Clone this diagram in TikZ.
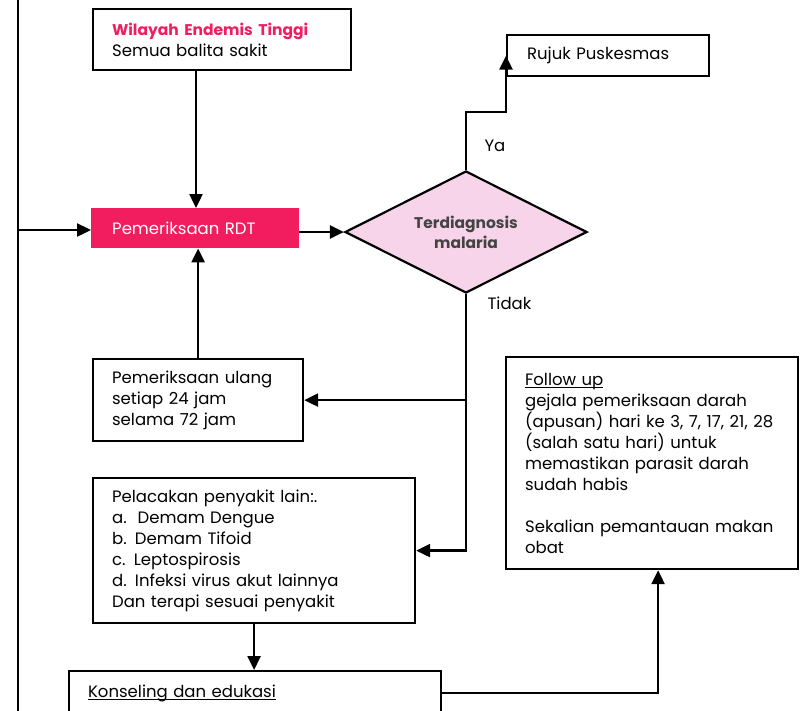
\documentclass[tikz,border=0pt]{standalone}
\usepackage{fontspec}
\setmainfont{Poppins}
\usetikzlibrary{arrows.meta,shapes.geometric}
\definecolor{rdtred}{HTML}{F21D5F}
\definecolor{diapink}{HTML}{F7D4E9}
\definecolor{labelgray}{HTML}{444444}
% underline drawn just below the baseline
\newcommand\baseul[1]{\setbox0\hbox{#1}\rlap{\rule[-2.6pt]{\wd0}{1.1pt}}\box0}
\begin{document}
\begin{tikzpicture}[x=1pt,y=-1pt,
  txt/.style={font=\fontsize{16.5}{21}\selectfont},
  box/.style={txt,draw=black,line width=2.2pt,anchor=north west,inner xsep=19pt,inner ysep=0pt,align=left},
  line/.style={line width=2.4pt},
  flow/.style={line width=2.4pt,-{Triangle[length=14pt,width=13pt]}}]
\useasboundingbox[fill=white] (0,0) rectangle (808,710);

% boxes
\node[box,minimum width=258pt,minimum height=61pt,text width=220pt] (endemic) at (92,8)
  {{\color{rdtred}\fontsize{15.5}{21}\selectfont\bfseries Wilayah Endemis Tinggi}\\Semua balita sakit};
\node[txt,fill=rdtred,text=white,anchor=north west,minimum width=208pt,minimum height=40pt,
  inner xsep=21pt,text width=166pt,align=left] (rdt) at (91,208) {Pemeriksaan RDT};
\node[diamond,draw=black,fill=diapink,line width=2.2pt,minimum width=242pt,minimum height=122pt,
  aspect=2,inner sep=0pt,align=center,text=labelgray,font=\fontsize{15.5}{20}\selectfont\bfseries]
  (dx) at (466,232) {Terdiagnosis\\malaria};
\node[box,minimum width=202pt,minimum height=41pt,text width=162pt,inner xsep=20pt] (rujuk) at (506,34)
  {Rujuk Puskesmas};
\node[box,minimum width=210pt,minimum height=82pt,text width=172pt] (ulang) at (92,358)
  {Pemeriksaan ulang\\setiap 24 jam\\selama 72 jam};
\node[box,minimum width=322pt,minimum height=145pt,text width=284pt] (lacak) at (92,477)
  {Pelacakan penyakit lain:.\\a.\ \ Demam Dengue\\b. Demam Tifoid\\c. Leptospirosis\\d. Infeksi virus akut lainnya\\Dan terapi sesuai penyakit};
\node[box,minimum width=372pt,minimum height=44pt,text width=334pt] (konsel) at (68,670)
  {\baseul{Konseling dan edukasi}};
\node[box,minimum width=292pt,minimum height=212pt,text width=254pt] (follow) at (505,356)
  {\baseul{Follow up}\\gejala pemeriksaan darah\\(apusan) hari ke 3, 7, 17, 21, 28\\(salah satu hari) untuk\\memastikan parasit darah\\sudah habis\\[21pt]Sekalian pemantauan makan\\obat};

% branch labels
\node[txt,anchor=west] (ya) at (481,146) {Ya};
\node[txt,anchor=west] (tidak) at (484,303) {Tidak};

% connectors
\coordinate (railtop) at (18,-5);
\coordinate (railbot) at (18,720);
\coordinate (entry) at (18,230);
\coordinate (drop) at (196,69);
\draw[line] (railtop) -- (railbot);
\draw[flow] (entry) -- (entry -| rdt.west);
\draw[flow] (drop) -- (drop |- rdt.north);
\draw[flow] (ulang.north) -- (ulang.north |- rdt.south);
\draw[flow] (rdt.east |- dx.west) -- (dx.west);
\draw[flow] (dx.north) -- ++(0,-58) -| (rujuk.west);
\draw[flow] (dx.south) |- (ulang.east);
\draw[flow] (dx.south) |- (lacak.east);
\draw[flow] (lacak.south) -- (lacak.south |- konsel.north);
\draw[flow] (konsel.east) -| ([xshift=6pt]follow.south);
\end{tikzpicture}
\end{document}
